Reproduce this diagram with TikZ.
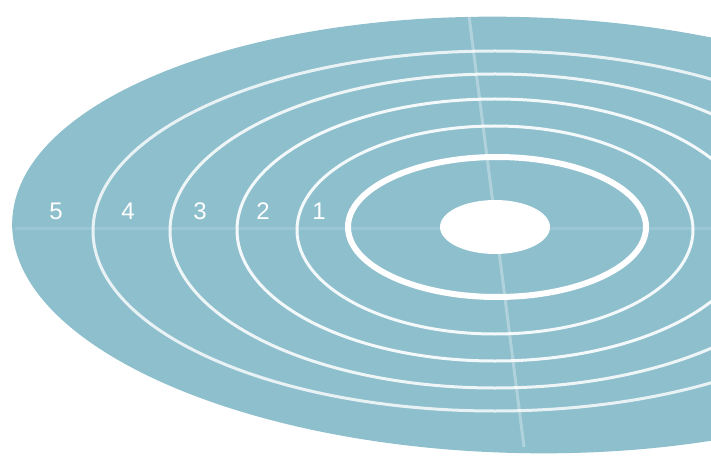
\documentclass[tikz,border=0pt]{standalone}
\usepackage{fontspec}
\setmainfont{Liberation Sans}
\usepackage{xcolor}
\usepackage{tikz}

\definecolor{targetblue}{RGB}{142,191,205}

\begin{document}
\begin{tikzpicture}[x=1pt, y=-1pt,
    ring/.style={draw=white, line width=3pt, opacity=0.9},
    bullring/.style={draw=white, line width=6pt},
    score/.style={text=white, font=\fontsize{24}{24}\selectfont, inner sep=0pt},
    seam/.style={draw=white, line width=3pt, opacity=0.3}
  ]
    \useasboundingbox (0,0) rectangle (711,462);
    \clip (0,0) rectangle (711,462);

    % Target face
    \fill[targetblue, rotate around={-1.5:(518,235)}] (518,235) ellipse [x radius=506, y radius=218];

    % Faint seams through the centre
    \coordinate (seamtop) at (469,16);
    \coordinate (seambot) at (524,447);
    \coordinate (seamleft) at (15,228);
    \coordinate (seamright) at (711,228);
    \draw[seam] (seamtop) -- (seambot);
    \draw[seam, opacity=0.12] (seamleft) -- (seamright);

    % Score rings
    \draw[ring, opacity=0.8] (495,231) ellipse [x radius=402, y radius=180];
    \draw[ring, opacity=0.85] (495,231) ellipse [x radius=325, y radius=157];
    \draw[ring] (495,230) ellipse [x radius=258, y radius=131];
    \draw[ring] (495,230) ellipse [x radius=198, y radius=104];
    \draw[bullring] (497,227) ellipse [x radius=149, y radius=70];

    % Bull
    \fill[white] (495,227) ellipse [x radius=55, y radius=27];

    % Ring numbers
    \node[score] (s5) at (56,211)  {5};
    \node[score] (s4) at (128,211) {4};
    \node[score] (s3) at (200,211) {3};
    \node[score] (s2) at (263,211) {2};
    \node[score] (s1) at (319,211) {1};
  \end{tikzpicture}
\end{document}
